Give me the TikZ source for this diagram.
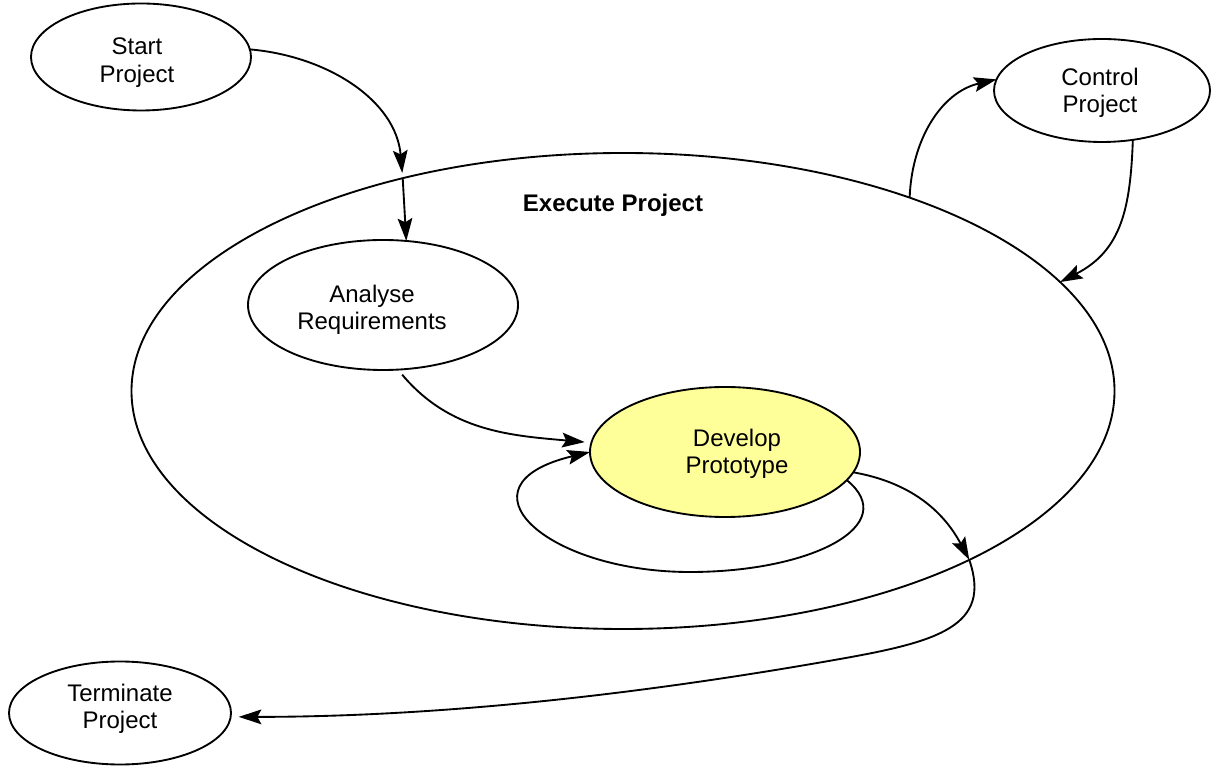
\documentclass[tikz,border=0pt]{standalone}
\usepackage{fontspec}
\setmainfont{Liberation Sans}
\usetikzlibrary{shapes.geometric,arrows.meta}
\definecolor{protoyellow}{RGB}{255,255,153}
\tikzset{
  proc/.style={ellipse, draw=black, line width=1.4pt, fill=white, inner sep=0pt, outer sep=0pt},
  proctext/.style={align=center, inner sep=0pt, font=\fontsize{18}{20.5}\selectfont},
  flow/.style={line width=1.4pt, -{Stealth[length=17pt,width=11pt,inset=3pt]}},
  heading/.style={font=\fontsize{18}{20.5}\selectfont\bfseries, anchor=base}
}
\begin{document}
\begin{tikzpicture}[x=0.75pt,y=0.75pt]
\useasboundingbox (0,0) rectangle (1216,767);

% enclosing process
\node[proc, minimum width=737.25pt, minimum height=357pt] (exec) at (623,376) {};
\node[heading] (execlabel) at (613,555) {Execute Project};

% processes
\node[proc, minimum width=165pt, minimum height=80.25pt] (start) at (141,710) {};
\node[proctext] (starttext) at (137,704.5) {Start\\Project};
\node[proc, minimum width=162pt, minimum height=77.25pt] (control) at (1102,676.5) {};
\node[proctext] (controltext) at (1100,674.5) {Control\\Project};
\node[proc, minimum width=202.5pt, minimum height=97.5pt] (analyse) at (383,462) {};
\node[proctext] (analysetext) at (372,457) {Analyse\\Requirements};
\node[proc, fill=protoyellow, minimum width=202.5pt, minimum height=97.5pt] (develop) at (725,315) {};
\node[proctext] (developtext) at (737,313) {Develop\\Prototype};
\node[proc, minimum width=166.5pt, minimum height=77.25pt] (terminate) at (120,54) {};
\node[proctext] (terminatetext) at (120,58) {Terminate\\Project};

% flows
\draw[flow, shorten >=4pt] (start.4) to[out=-5,in=95] (exec.136.5);
\draw[flow] (exec.136.5) -- (analyse.70);
\draw[flow] (exec.34) to[out=88,in=193] (control.174.5);
\draw[flow] (control.-58) to[out=-92,in=27,looseness=1.1] (exec.14);
\draw[flow, shorten <=5pt, shorten >=5pt] (analyse.-77) to[out=-50,in=175] (develop.176);
\draw[flow] (develop.-13) .. controls (902,242) and (812,195) .. (690,195)
  .. controls (545,195) and (452,282) .. (develop.west);
\draw[flow] (develop.-9) to[out=-10,in=118] (exec.-26);
\coordinate (sweep) at (840,108);
\draw[flow, shorten >=6pt] (exec.-26) .. controls (992,141) and (938.5,125.4) .. (sweep)
  .. controls (643,73) and (440,50) .. (terminate.-2);
\end{tikzpicture}
\end{document}
